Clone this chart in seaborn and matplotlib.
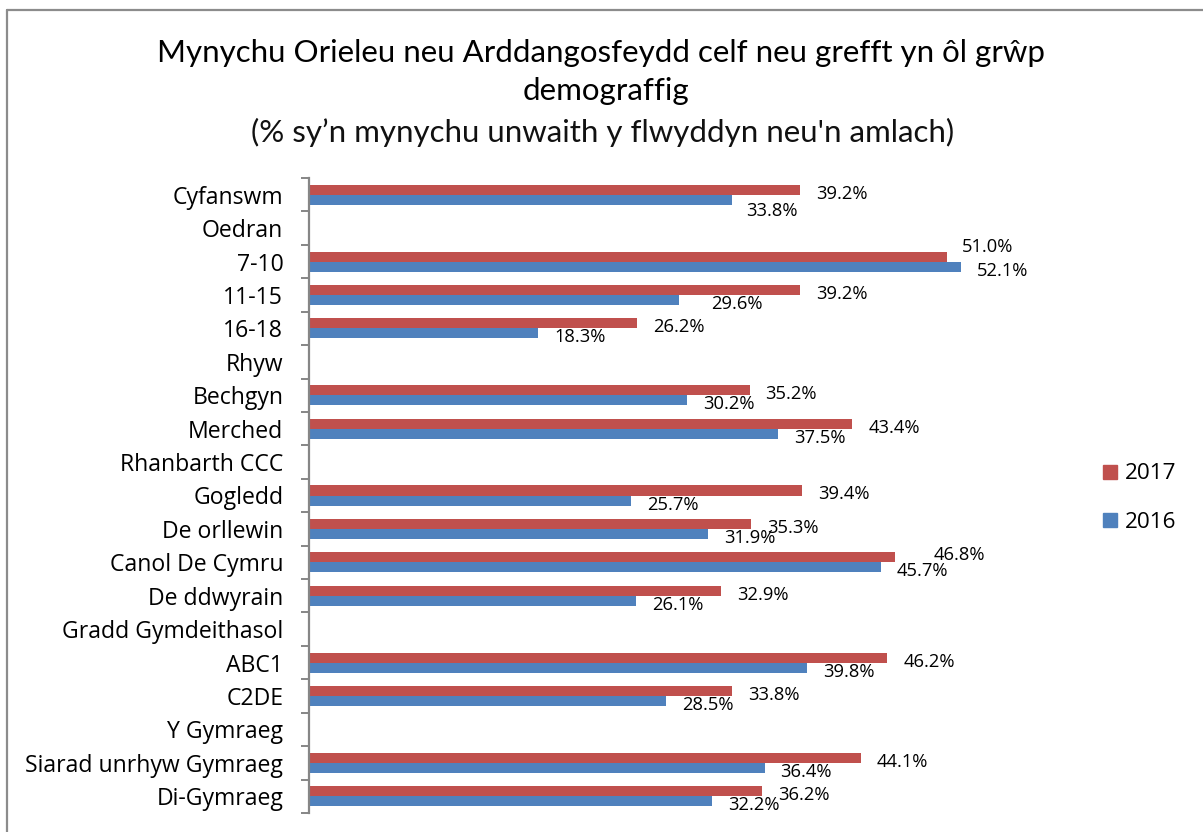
import numpy as np
import pandas as pd
import matplotlib
matplotlib.use("Agg")
import matplotlib.pyplot as plt
from matplotlib.patches import Rectangle
from matplotlib.lines import Line2D
import seaborn as sns

# ---- data -------------------------------------------------------------
categories = [
    "Cyfanswm", "Oedran", "7-10", "11-15", "16-18", "Rhyw", "Bechgyn",
    "Merched", "Rhanbarth CCC", "Gogledd", "De orllewin", "Canol De Cymru",
    "De ddwyrain", "Gradd Gymdeithasol", "ABC1", "C2DE", "Y Gymraeg",
    "Siarad unrhyw Gymraeg", "Di-Gymraeg",
]
values_2017 = [39.2, None, 51.0, 39.2, 26.2, None, 35.2, 43.4, None, 39.4,
               35.3, 46.8, 32.9, None, 46.2, 33.8, None, 44.1, 36.2]
values_2016 = [33.8, None, 52.1, 29.6, 18.3, None, 30.2, 37.5, None, 25.7,
               31.9, 45.7, 26.1, None, 39.8, 28.5, None, 36.4, 32.2]
series_names = ["2017", "2016"]

title_line1 = "Mynychu Orieleu neu Arddangosfeydd celf neu grefft yn ôl grŵp"
title_line2 = "demograffig"
subtitle = "(% sy\u2019n mynychu unwaith y flwyddyn neu'n amlach)"

# ---- styling ----------------------------------------------------------
RED = "#C0504D"
BLUE = "#4F81BD"
GREY = "#868686"
palette = {"2017": RED, "2016": BLUE}

# label nudges in pixels (dx right, dy up) for labels that sit off the default spot
default_nudge = (16, -2)
label_nudges = {
    ("Cyfanswm", "2016"): (14, -9),
    ("7-10", "2017"): (15, 12),
    ("11-15", "2016"): (32, -2),
    ("Canol De Cymru", "2017"): (39, 4),
}

sns.set_theme(style="white")
plt.rcParams["font.family"] = ["Open Sans", "DejaVu Sans"]

W, H = 1203, 832
fig = plt.figure(figsize=(W / 100, H / 100), dpi=100)


def fx(px):
    return px / W


def fy(py):
    return 1 - py / H


# plot area: x from 309 to 1060 px, y from 178 to 813 px
ax = fig.add_axes([fx(309), fy(813), fx(1060) - fx(309), fy(178) - fy(813)])

df = pd.DataFrame({
    "category": categories * 2,
    "year": [series_names[0]] * len(categories) + [series_names[1]] * len(categories),
    "value": [np.nan if v is None else v for v in values_2017]
             + [np.nan if v is None else v for v in values_2016],
})

sns.barplot(
    data=df, x="value", y="category", hue="year",
    order=categories, hue_order=series_names, palette=palette,
    orient="h", width=0.6, gap=0, errorbar=None, linewidth=0,
    saturation=1, legend=False, ax=ax,
)

n = len(categories)
ax.set_xlim(0, 60)
ax.set_ylim(n - 0.5, -0.5)

# category labels at centres, tick marks between categories
ax.set_yticks(np.arange(-0.5, n, 1.0))
ax.set_yticklabels([])
ax.set_yticks(np.arange(n), labels=categories, minor=True)
ax.tick_params(axis="y", which="major", left=True, length=5.8, width=1.4,
               color=GREY, direction="out")
ax.tick_params(axis="y", which="minor", left=True, length=0, pad=18.5,
               labelsize=16.6, labelcolor="black")
ax.set_xticks([])
ax.set_xlabel("")
ax.set_ylabel("")
for side in ("top", "right", "bottom"):
    ax.spines[side].set_visible(False)
ax.spines["left"].set_color(GREY)
ax.spines["left"].set_linewidth(1.6)
ax.grid(False)

# value labels
bar_offset = {"2017": -0.15, "2016": 0.15}
for name, vals in zip(series_names, [values_2017, values_2016]):
    for i, (cat, v) in enumerate(zip(categories, vals)):
        if v is None:
            continue
        dx, dy = label_nudges.get((cat, name), default_nudge)
        ax.annotate(f"{v:.1f}%", xy=(v, i + bar_offset[name]),
                    xytext=(dx, dy), textcoords="offset pixels",
                    ha="left", va="center_baseline", fontsize=13.2,
                    color="black", annotation_clip=False)

# legend
for k, (name, yc) in enumerate(zip(series_names, [471.5, 519.5])):
    fig.patches.append(Rectangle((fx(1103), fy(yc + 7)), fx(14), 14 / H,
                                 transform=fig.transFigure, color=palette[name]))
    fig.text(fx(1125), fy(yc), name, ha="left", va="center_baseline",
             fontsize=16.2, color="black")

# titles
title_family = ["Lato", "DejaVu Sans"]
fig.text(fx(601), fy(62), title_line1, ha="center", va="baseline",
         fontsize=22.5, family=title_family, color="black")
fig.text(fx(606), fy(100), title_line2, ha="center", va="baseline",
         fontsize=22.5, family=title_family, color="black")
fig.text(fx(603), fy(142), subtitle, ha="center", va="baseline",
         fontsize=22.5, family=title_family, color="#111111")

# outer chart frame (top and left edges visible)
fig.add_artist(Line2D([fx(7), fx(7)], [fy(10), 0], transform=fig.transFigure,
                      color="#8C8C8C", linewidth=1.6))
fig.add_artist(Line2D([fx(7), 1], [fy(10), fy(10)], transform=fig.transFigure,
                      color="#8C8C8C", linewidth=1.6))

fig.savefig("out.png", dpi=100)
